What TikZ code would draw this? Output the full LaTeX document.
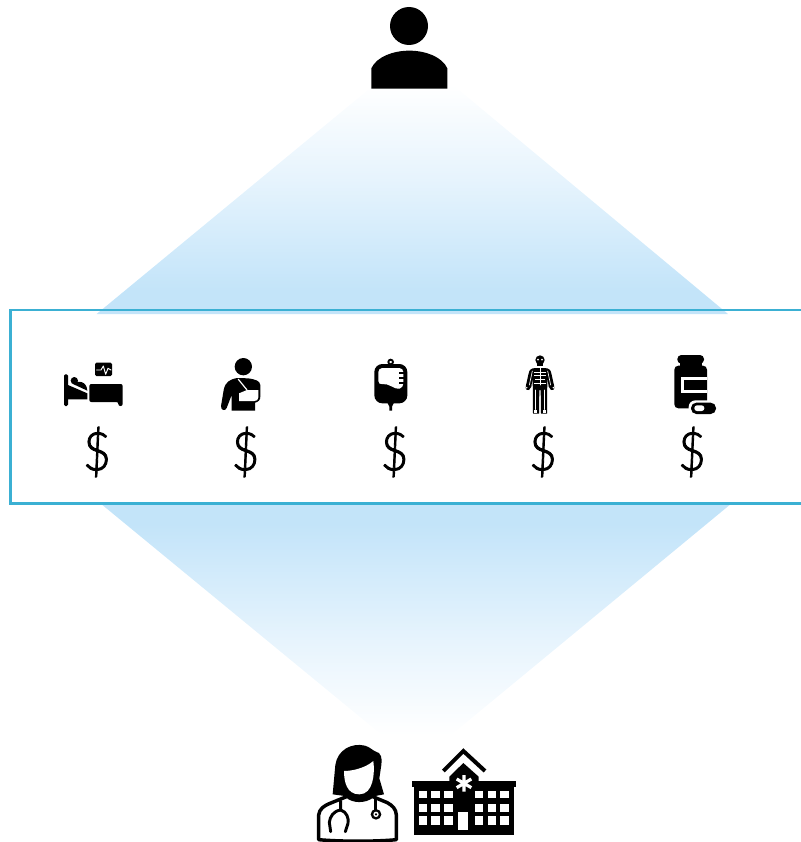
\documentclass[tikz,border=0pt]{standalone}
\usepackage{fontspec}
\newfontfamily\dolfont[FakeBold=1.6,FakeStretch=0.9]{Lato Light}
\definecolor{beam}{HTML}{C3E4F9}
\definecolor{beammid}{HTML}{E7F4FD}
\definecolor{frameblue}{HTML}{3BB0D3}
\pgfdeclareverticalshading{beamup}{100bp}{color(0bp)=(beam); color(30bp)=(beam); color(55bp)=(beammid); color(75bp)=(white); color(100bp)=(white)}
\pgfdeclareverticalshading{beamdown}{100bp}{color(0bp)=(white); color(26bp)=(white); color(46bp)=(beammid); color(71bp)=(beam); color(100bp)=(beam)}
\tikzset{
  px/.style={x=0.75pt,y=-0.75pt},
  zm/.style 2 args={shift={(#1,#2)},x=0.25pt,y=-0.25pt},
  whiteln/.style={draw=white,line cap=round,line join=round,fill=none},
  dollar/.style={inner sep=0pt,font=\dolfont\fontsize{40}{40}\selectfont,text=black},
  win/.style={fill=white,draw=none},
  tube/.style={draw=black,line width=2.2pt,line cap=round,line join=round,fill=none}
}
\begin{document}
\begin{tikzpicture}[px]
\useasboundingbox (0,0) rectangle (800,842);
% beams
\shade[shading=beamup] (374,85) -- (453,85) -- (728,314) -- (96.6,314) -- cycle;
\shade[shading=beamdown] (102.4,505) -- (729.6,505) -- (445,740) -- (388,740) -- cycle;
% frame
\draw[frameblue,line width=1.8pt] (10.5,310) -- (804,310) -- (804,503.5) -- (10.5,503.5) -- cycle;
% dollars
\node[dollar] (d1) at (97,452) {\$};
\node[dollar] (d2) at (245.5,452) {\$};
\node[dollar] (d3) at (394.5,452) {\$};
\node[dollar] (d4) at (543,452) {\$};
\node[dollar] (d5) at (692,452) {\$};
% top person
\begin{scope}[zm={360}{0}]
\fill (147,78) circle[radius=57];
\fill (34,266) -- (34,205) .. controls (50,170) and (100,152) .. (148,152) .. controls (196,152) and (246,170) .. (262,205) -- (262,266) -- cycle;
\end{scope}
% bed
\begin{scope}[zm={40}{340}]
\fill[rounded corners=1pt] (72,103) rectangle (84,198);
\fill[rounded corners=1pt] (165,68) rectangle (216,108);
\draw[whiteln,line width=0.7pt] (170,90) -- (183,90) -- (190,78) -- (197,103) -- (204,85) -- (213,90);
\fill (103,122) circle[radius=11];
\fill (84,135) -- (142,160) -- (142,178) -- (84,178) -- cycle;
\fill (97,131) .. controls (112,120) and (140,122) .. (142,152) -- cycle;
\fill[rounded corners=1.5pt] (148,132) -- (248,132) -- (248,198) -- (235,198) -- (235,186) -- (148,186) -- cycle;
\end{scope}
% arm in sling
\begin{scope}[zm={40}{340}]
\fill (610,80) circle[radius=26];
\fill (592,114) .. controls (570,118) and (556,125) .. (551,150) -- (543,198) .. controls (542,212) and (556,214) .. (560,204) -- (575,165) -- (575,212) -- (645,212) -- (645,188) .. controls (655,186) and (661,180) .. (661,170) -- (661,135) .. controls (660,122) and (645,118) .. (625,115) -- cycle;
\fill[white] (621,150) -- (655,150) -- (655,172) .. controls (655,180) and (650,183) .. (643,183) -- (597,183) -- (597,160) -- cycle;
\draw[whiteln,line width=0.9pt] (595,118) -- (621,150);
\end{scope}
% IV bag
\begin{scope}[zm={350}{340}]
\draw[black,line width=1.4pt,fill=white] (122,66) circle[radius=7];
\fill[rounded corners=6pt] (73,72) rectangle (172,190);
\fill (112,188) -- (132,188) -- (126,200) -- (126,212) -- (118,212) -- (118,200) -- cycle;
\fill[white,rounded corners=3pt] (85,84) -- (160,84) -- (160,143) .. controls (135,150) and (115,128) .. (85,135) -- cycle;
\fill (148,95) rectangle (161,101);
\fill (148,111) rectangle (161,117);
\fill (148,127) rectangle (161,133);
\end{scope}
% skeleton
\begin{scope}[zm={350}{340}]
\fill (570,60) circle[radius=14];
\fill (562,70) rectangle (578,78);
\fill[white] (564,59) circle[radius=2.8];
\fill[white] (576,59) circle[radius=2.8];
\fill[line join=round] (556,84) -- (584,84) .. controls (598,85) and (602,90) .. (604,100) -- (612,136) .. controls (616,148) and (608,154) .. (603,150) -- (596,140) -- (592,112) -- (591,221) -- (573,221) -- (572,150) -- (568,150) -- (567,221) -- (549,221) -- (548,112) -- (544,140) -- (537,150) .. controls (532,154) and (524,148) .. (528,136) -- (536,100) .. controls (538,90) and (542,85) .. (556,84) -- cycle;
\draw[whiteln,line width=0.6pt] (570,84) -- (570,135);
\draw[whiteln,line width=0.5pt] (553,97) -- (587,97) (553,107) -- (587,107) (556,117) -- (584,117);
\draw[whiteln,line width=0.5pt] (547,93) -- (538,135) (593,93) -- (602,135);
\draw[whiteln,line width=0.5pt] (553,130) -- (587,130);
\draw[whiteln,line width=0.7pt] (556,150) -- (556,208) (584,150) -- (584,208);
\fill[white] (552,210) rectangle (561,219);
\fill[white] (579,210) rectangle (588,219);
\fill[white] (530,143) circle[radius=2.5];
\fill[white] (610,143) circle[radius=2.5];
\end{scope}
% pill bottle
\begin{scope}[zm={640}{300}]
\fill[rounded corners=3pt] (112,165) rectangle (192,191);
\fill (120,188) rectangle (185,200);
\fill[rounded corners=3pt] (103,197) rectangle (201,325);
\fill[white] (122,232) rectangle (202,278);
\fill (132,241) rectangle (201,270);
\fill[white,rounded corners=5pt] (146,301) rectangle (233,347);
\fill[rounded corners=4pt] (153,308) rectangle (228,342);
\fill[white,rounded corners=2pt] (163,316) rectangle (193,333);
\end{scope}
% doctor
\begin{scope}[zm={310}{735}]
\draw[black,line width=2.6pt,fill=white,line join=round] (26,314) -- (26,240) .. controls (28,222) and (42,212) .. (60,205) -- (112,184) .. controls (130,200) and (165,200) .. (186,184) -- (232,203) .. controls (248,212) and (258,222) .. (259,240) -- (259,314) .. controls (200,320) and (90,320) .. (26,314) -- cycle;
\fill (68,178) -- (76,90) .. controls (82,45) and (125,22) .. (165,32) .. controls (180,36) and (190,48) .. (198,50) .. controls (212,52) and (218,70) .. (214,90) -- (208,130) -- (222,178) -- (190,184) .. controls (165,200) and (130,200) .. (112,184) -- cycle;
\fill[white] (102,108) .. controls (125,108) and (165,100) .. (190,78) .. controls (195,115) and (190,178) .. (148,178) .. controls (110,178) and (102,140) .. (102,108) -- cycle;
\draw[tube] (92,198) -- (92,225) .. controls (70,228) and (60,245) .. (58,262) -- (62,290);
\draw[tube] (92,225) .. controls (110,230) and (117,250) .. (114,265) -- (106,290);
\draw[tube] (197,192) -- (197,225);
\fill (198,238) circle[radius=16];
\fill[white] (198,238) circle[radius=8];
\fill (198,238) circle[radius=3.5];
\end{scope}
% hospital
\begin{scope}[zm={310}{735}]
\draw[black,line width=3pt,line join=miter] (400,108) -- (460,48) -- (525,108);
\fill (418,132) -- (418,125) -- (460,84) -- (506,125) -- (506,140) -- (418,140) -- cycle;
\fill (305,137) rectangle (619,155);
\fill (312,150) rectangle (612,300);
\foreach \yy/\hh in {167/22,206/24,244/25}{
  \foreach \xx/\ww in {327/24,364/25,402/27,496/23,534/25,571/25}{
    \fill[win] (\xx,\yy) rectangle ++(\ww,\hh);
  }
}
\fill[win] (445,232) rectangle (475,285);
\draw[white,line width=2.4pt] (462,120) -- (462,170) (440,132) -- (484,158) (440,158) -- (484,132);
\end{scope}
\end{tikzpicture}
\end{document}
